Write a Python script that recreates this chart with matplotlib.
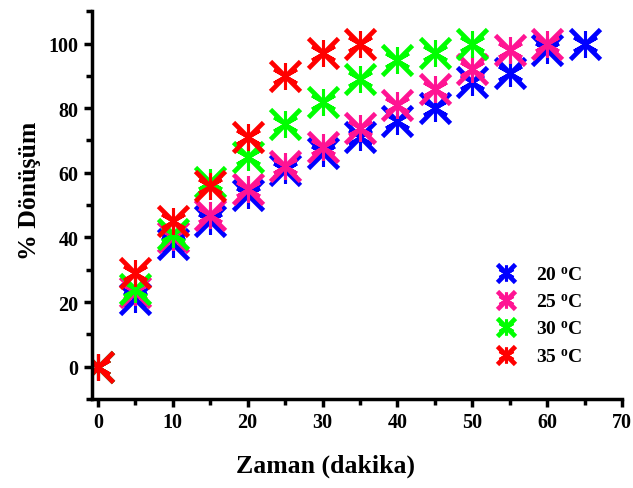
import matplotlib
matplotlib.use("Agg")
import matplotlib.pyplot as plt
from matplotlib.ticker import MultipleLocator

plt.rcParams['font.family'] = 'Liberation Serif'
plt.rcParams['font.weight'] = 'bold'
plt.rcParams['mathtext.fontset'] = 'custom'
plt.rcParams['mathtext.rm'] = 'Liberation Serif:bold'
plt.rcParams['mathtext.it'] = 'Liberation Serif:bold'

# data
t20 = [0, 5, 10, 15, 20, 25, 30, 35, 40, 45, 50, 55, 60, 65]
y20 = [0, 21, 38, 45, 53, 61, 66, 71, 76, 80, 88, 91, 98, 100]
t25 = [0, 5, 10, 15, 20, 25, 30, 35, 40, 45, 50, 55, 60]
y25 = [0, 23, 40, 47, 55, 62, 68, 74, 81, 86, 92, 98, 100]
t30 = [0, 5, 10, 15, 20, 25, 30, 35, 40, 45, 50]
y30 = [0, 24, 41, 57, 65, 75, 82, 89, 95, 97, 100]
t35 = [0, 5, 10, 15, 20, 25, 30, 35]
y35 = [0, 29, 45, 56, 71, 90, 97, 100]

series = [
    (t20, y20, '#0000ff', '20 $^{\\mathrm{o}}$C'),
    (t25, y25, '#ff1493', '25 $^{\\mathrm{o}}$C'),
    (t30, y30, '#00ff00', '30 $^{\\mathrm{o}}$C'),
    (t35, y35, '#ff0000', '35 $^{\\mathrm{o}}$C'),
]

fig = plt.figure(figsize=(6.33, 4.89), dpi=100)
ax = fig.add_axes([0.145, 0.182, 0.838, 0.793])

handles = []
labels = []
for t, y, c, lab in series:
    a, = ax.plot(t, y, ls='none', marker='x', ms=21, mew=3.4, color=c)
    b, = ax.plot(t, y, ls='none', marker=(6, 2, 0), ms=19, mew=2.2, color=c)
    handles.append((a, b))
    labels.append(lab)

ax.set_xlim(-0.8, 70)
ax.set_ylim(-10, 110)
ax.xaxis.set_major_locator(MultipleLocator(10))
ax.xaxis.set_minor_locator(MultipleLocator(5))
ax.yaxis.set_major_locator(MultipleLocator(20))
ax.yaxis.set_minor_locator(MultipleLocator(10))

for s in ['top', 'right']:
    ax.spines[s].set_visible(False)
for s in ['left', 'bottom']:
    ax.spines[s].set_linewidth(2.5)

ax.tick_params(which='major', length=6, width=2.5, labelsize=14.5, direction='out')
ax.tick_params(which='minor', length=4, width=2.5, direction='out')

ax.set_xlabel('Zaman (dakika)', fontsize=18.5, fontweight='bold')
ax.set_ylabel('% Dönüşüm', fontsize=18.5, fontweight='bold')
ax.xaxis.set_label_coords(0.44, -0.14)
ax.yaxis.set_label_coords(-0.095, 0.54)

leg = ax.legend(handles, labels, loc='center', bbox_to_anchor=(0.84, 0.215),
                frameon=False, fontsize=14, handlelength=1.4,
                labelspacing=0.5, markerscale=0.6)

fig.savefig('out.png', dpi=100)
